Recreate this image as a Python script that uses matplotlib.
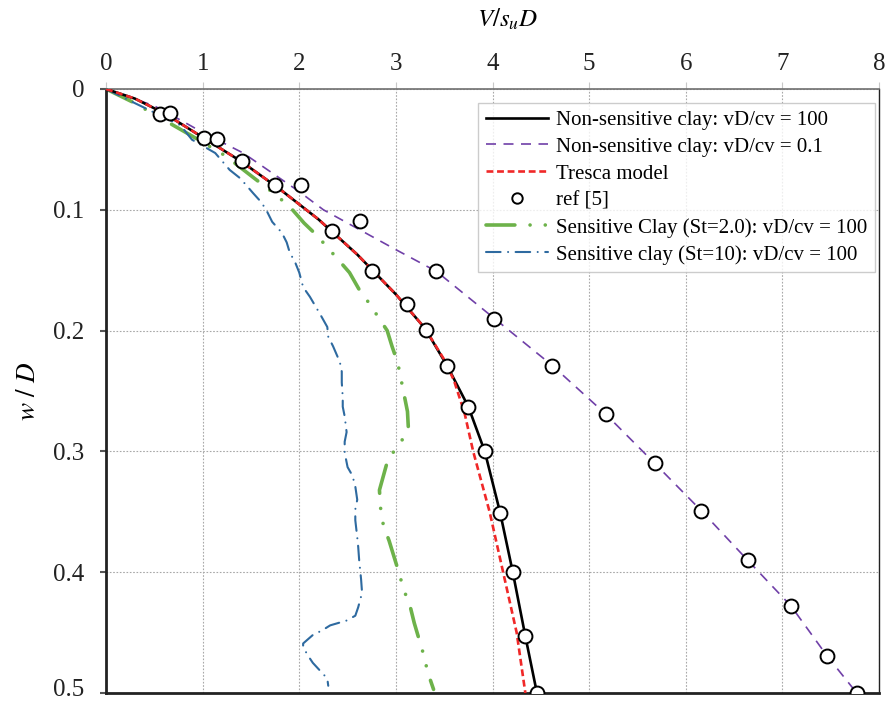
import matplotlib
matplotlib.use("Agg")
import matplotlib.pyplot as plt
from matplotlib.transforms import ScaledTranslation

plt.rcParams['font.family'] = ['Liberation Serif', 'DejaVu Serif']
plt.rcParams['mathtext.fontset'] = 'stix'

# Non-sensitive clay vD/cv = 100
x_ns100 = [0, 0.3, 0.6, 1.0, 1.4, 1.8, 2.2, 2.6, 3.0, 3.3, 3.53, 3.75, 3.92, 4.08, 4.21, 4.34, 4.46]
y_ns100 = [0, 0.008, 0.02, 0.04, 0.06, 0.083, 0.108, 0.137, 0.170, 0.198, 0.229, 0.263, 0.30, 0.351, 0.40, 0.453, 0.50]

# Non-sensitive clay vD/cv = 0.1
x_ns01 = [0, 0.5, 0.8, 1.0, 1.42, 2.0, 2.25, 3.0, 3.42, 4.02, 4.62, 5.17, 5.68, 6.16, 6.64, 7.09, 7.46, 7.77]
y_ns01 = [0, 0.014, 0.027, 0.036, 0.053, 0.085, 0.100, 0.133, 0.151, 0.19, 0.229, 0.269, 0.31, 0.349, 0.39, 0.428, 0.469, 0.50]

# Tresca model
x_tr = [0, 0.3, 0.6, 1.0, 1.4, 1.8, 2.2, 2.6, 3.0, 3.3, 3.5, 3.60, 3.71, 3.80, 3.97, 4.11, 4.25, 4.34]
y_tr = [0, 0.008, 0.02, 0.04, 0.06, 0.083, 0.108, 0.137, 0.170, 0.198, 0.224, 0.241, 0.268, 0.30, 0.35, 0.40, 0.45, 0.50]

# ref [5]
x_ref = [0.56, 0.66, 1.01, 1.15, 1.41, 1.75, 2.02, 2.34, 2.63, 2.75, 3.11, 3.31, 3.42, 3.53,
         4.02, 3.75, 3.92, 4.08, 4.21, 4.34, 4.46,
         4.62, 5.17, 5.68, 6.16, 6.64, 7.09, 7.46, 7.77]
y_ref = [0.0207, 0.020, 0.0406, 0.041, 0.060, 0.0795, 0.0795, 0.1175, 0.109, 0.151, 0.178, 0.1995, 0.151, 0.229,
         0.19, 0.263, 0.30, 0.351, 0.40, 0.453, 0.50,
         0.229, 0.269, 0.31, 0.349, 0.39, 0.428, 0.469, 0.50]

# Sensitive clay St=2.0
x_s2 = [0, 0.28, 0.87, 1.23, 1.52, 1.78, 1.93, 2.05, 2.18, 2.40, 2.52, 2.62, 2.72, 2.91, 2.96, 3.02,
        3.06, 3.12, 3.13, 3.03, 2.92, 2.83, 2.84, 2.87, 2.93, 3.03, 3.08, 3.15, 3.19, 3.29, 3.33, 3.39]
y_s2 = [0, 0.011, 0.038, 0.055, 0.073, 0.089, 0.100, 0.111, 0.121, 0.141, 0.152, 0.166, 0.177, 0.200, 0.213, 0.227,
        0.243, 0.267, 0.282, 0.295, 0.306, 0.332, 0.346, 0.361, 0.374, 0.400, 0.414, 0.429, 0.442, 0.469, 0.483, 0.497]

# Sensitive clay St=10
x_s10 = [0, 0.28, 0.77, 0.89, 1.13, 1.28, 1.39, 1.52, 1.61, 1.67, 1.72, 1.82, 1.87, 1.90, 1.96, 2.00, 2.04,
         2.11, 2.22, 2.29, 2.30, 2.35, 2.42, 2.44, 2.44, 2.45, 2.45, 2.47, 2.49, 2.47, 2.47, 2.50, 2.55, 2.58,
         2.60, 2.58, 2.58, 2.60, 2.61, 2.62, 2.64, 2.65, 2.61, 2.58, 2.49, 2.32, 2.24, 2.14, 2.04, 2.04,
         2.09, 2.14, 2.29, 2.30]
y_s10 = [0, 0.011, 0.030, 0.042, 0.053, 0.067, 0.074, 0.086, 0.094, 0.102, 0.110, 0.119, 0.127, 0.135, 0.144,
         0.152, 0.164, 0.172, 0.187, 0.197, 0.205, 0.213, 0.226, 0.234, 0.243, 0.255, 0.263, 0.271, 0.284,
         0.292, 0.301, 0.313, 0.320, 0.329, 0.340, 0.348, 0.357, 0.371, 0.379, 0.390, 0.406, 0.417, 0.429,
         0.436, 0.440, 0.444, 0.448, 0.452, 0.459, 0.462, 0.469, 0.475, 0.488, 0.494]

x_ticks = [0, 1, 2, 3, 4, 5, 6, 7, 8]
y_ticks = [0, 0.1, 0.2, 0.3, 0.4, 0.5]
y_ticklabels = ['0', '0.1', '0.2', '0.3', '0.4', '0.5']

fig = plt.figure(figsize=(8.91, 7.04), dpi=100)
ax = fig.add_axes([0.119, 0.0156, 0.8675, 0.858])

ax.plot(x_ns100, y_ns100, color='black', lw=1.9, label='Non-sensitive clay: vD/cv = 100', zorder=4)
ax.plot(x_ns01, y_ns01, color='#7040A8', lw=1.2, linestyle=(0, (6, 4.5)),
        label='Non-sensitive clay: vD/cv = 0.1', zorder=3)
ax.plot(x_tr, y_tr, color='#F02828', lw=1.9, linestyle=(0, (2.6, 1.4)), label='Tresca model', zorder=5)
ax.plot(x_ref, y_ref, linestyle='none', marker='o', markersize=10, markerfacecolor='white',
        markeredgecolor='black', markeredgewidth=1.4, label='ref [5]', zorder=6)
ax.plot(x_s2, y_s2, color='#6DB24A', lw=2.6, linestyle=(0, (8, 4.2, 0.01, 4.2, 0.01, 4.2)),
        dash_capstyle='round', solid_capstyle='round',
        label='Sensitive Clay (St=2.0): vD/cv = 100', zorder=2)
ax.plot(x_s10, y_s10, color='#2E6AA0', lw=1.5, linestyle=(0, (7, 3.6, 0.01, 3.6)),
        dash_capstyle='round', label='Sensitive clay (St=10): vD/cv = 100', zorder=2)

ax.set_xlim(0, 8)
ax.set_ylim(0.5, 0)
ax.xaxis.tick_top()
ax.xaxis.set_label_position('top')
ax.set_xticks(x_ticks)
ax.set_yticks(y_ticks)
ax.set_yticklabels(y_ticklabels)
ax.tick_params(axis='x', which='both', length=5, width=0.8, color='#C8C8C8', labelsize=18, pad=5,
               labelcolor='#222222')
ax.tick_params(axis='y', which='both', length=4.5, width=1.5, color='#555555', labelsize=18, pad=11,
               labelcolor='#222222')

# keep the lowest y tick label inside the picture
last = ax.get_yticklabels()[-1]
last.set_transform(last.get_transform() + ScaledTranslation(0, 4 / 72, fig.dpi_scale_trans))

ax.grid(True, color='#A8A8A8', linestyle=(0, (1.5, 1.5)), linewidth=0.8)
ax.set_axisbelow(True)

ax.spines['left'].set_linewidth(2.0)
ax.spines['left'].set_color('#222222')
ax.spines['bottom'].set_linewidth(2.0)
ax.spines['bottom'].set_color('#222222')
ax.spines['top'].set_linewidth(1.2)
ax.spines['top'].set_color('#707070')
ax.spines['right'].set_linewidth(1.0)
ax.spines['right'].set_color('#222222')

ax.set_xlabel(r'$V/s_uD$', fontsize=18, labelpad=12)
ax.xaxis.set_label_coords(0.519, 1.0 + 62 / 604)
ax.set_ylabel(r'$w\ /\ D$', fontsize=19.5, labelpad=9)

leg = ax.legend(loc='upper right', bbox_to_anchor=(0.9948, 0.9768), fontsize=15, frameon=True,
                fancybox=False, edgecolor='#C0C0C0', handlelength=3.0, handletextpad=0.4,
                borderpad=0.35, labelspacing=0.35, borderaxespad=0.0, markerscale=0.75)
leg.get_frame().set_linewidth(1.0)

fig.savefig('out.png', dpi=100)
